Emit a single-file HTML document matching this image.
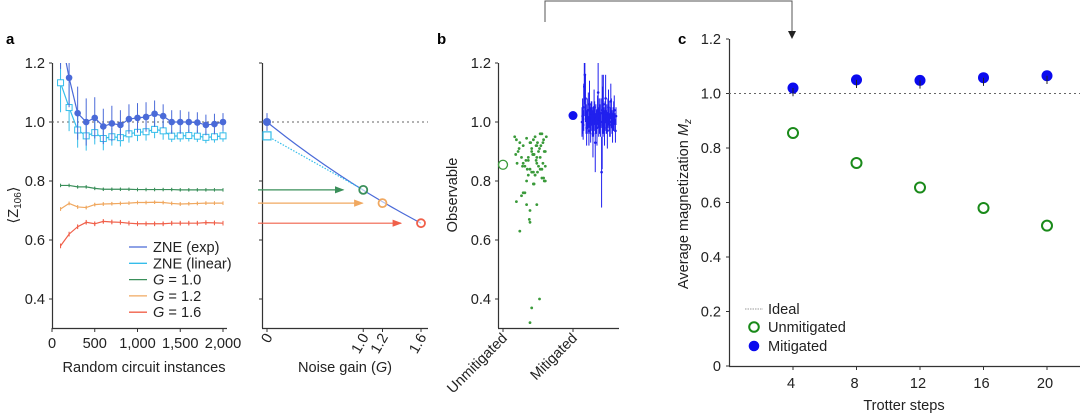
<!DOCTYPE html>
<html><head><meta charset="utf-8"><style>
html,body{margin:0;padding:0;background:#fff;width:1080px;height:414px;overflow:hidden}
svg{display:block;font-family:"Liberation Sans",Arial,sans-serif}
</style></head><body>
<svg id="fig" width="1080" height="414" viewBox="0 0 1080 414">
<defs>
<marker id="arrG" markerWidth="8" markerHeight="8" refX="7" refY="4" orient="auto"><path d="M0,1 L8,4 L0,7 z" fill="#3a8f5a"/></marker>
<marker id="arrO" markerWidth="8" markerHeight="8" refX="7" refY="4" orient="auto"><path d="M0,1 L8,4 L0,7 z" fill="#f0a860"/></marker>
<marker id="arrR" markerWidth="8" markerHeight="8" refX="7" refY="4" orient="auto"><path d="M0,1 L8,4 L0,7 z" fill="#f0604a"/></marker>
</defs>
<g>
<path d="M545,22 L545,1 L792,1 L792,32" fill="none" stroke="#555" stroke-width="1"/>
<path d="M788,31 L796,31 L792,39 z" fill="#222"/>
</g>
<text x="6" y="44" font-size="15" font-weight="bold">a</text>
<text x="437" y="44" font-size="15" font-weight="bold">b</text>
<text x="678" y="44" font-size="15" font-weight="bold">c</text>
<g id="pa"></g><g id="pa2"></g><g id="pb"></g><g id="pc"></g>
</svg>
<script>
// ---------- data ----------
const instances = [100,200,300,400,500,600,700,800,900,1000,1100,1200,1300,1400,1500,1600,1700,1800,1900,2000];
const zneExp = [1.30,1.15,1.03,1.0,1.014,0.985,0.995,0.99,1.01,1.014,1.017,1.028,1.02,1.0,1.0,1.0,0.998,0.99,0.993,1.0];
const zneExpErr = [0.12,0.1,0.09,0.08,0.07,0.06,0.06,0.05,0.05,0.05,0.05,0.045,0.04,0.04,0.04,0.035,0.035,0.035,0.035,0.03];
const zneLin = [1.133,1.049,0.973,0.953,0.964,0.944,0.95,0.947,0.96,0.965,0.967,0.975,0.97,0.952,0.953,0.954,0.952,0.948,0.95,0.953];
const zneLinErr = [0.1,0.08,0.06,0.05,0.04,0.04,0.03,0.03,0.03,0.03,0.03,0.03,0.03,0.02,0.02,0.02,0.02,0.02,0.02,0.02];
const g10 = [0.785,0.785,0.78,0.78,0.775,0.772,0.772,0.772,0.772,0.771,0.771,0.771,0.771,0.771,0.77,0.77,0.77,0.77,0.77,0.77];
const g12 = [0.705,0.724,0.712,0.71,0.72,0.722,0.723,0.724,0.725,0.727,0.727,0.728,0.727,0.724,0.722,0.723,0.724,0.725,0.725,0.725];
const g16 = [0.58,0.62,0.645,0.66,0.655,0.663,0.661,0.66,0.657,0.655,0.655,0.655,0.655,0.657,0.657,0.657,0.657,0.659,0.658,0.657];
const gains = [1.0,1.2,1.6];
const gainVals = [0.77,0.725,0.657];
const extrapExp = 1.0;
const extrapLin = 0.953;
const xTicksA = [0,500,1000,1500,2000];
const xTickLabelsA = ["0","500","1,000","1,500","2,000"];
const yTicks = [0.4,0.6,0.8,1.0,1.2];
const unmitVals = [0.95,0.94,0.93,0.92,0.945,0.9,0.88,0.86,0.85,0.87,0.93,0.91,0.89,0.84,0.82,0.8,0.79,0.76,0.75,0.76,0.73,0.72,0.7,0.67,0.66,0.63,0.95,0.92,0.9,0.88,0.86,0.84,0.83,0.82,0.81,0.8,0.96,0.94,0.93,0.91,0.9,0.89,0.87,0.85,0.84,0.83,0.79,0.95,0.93,0.92,0.9,0.89,0.88,0.86,0.85,0.83,0.81,0.96,0.94,0.92,0.9,0.88,0.87,0.86,0.84,0.82,0.8,0.72,0.4,0.37,0.32,0.91,0.89,0.85,0.93];
const unmitJit = [0.05,0.1,0.2,0.3,0.4,0.15,0.25,0.12,0.35,0.45,0.5,0.55,0.6,0.5,0.45,0.4,0.6,0.3,0.25,0.35,0.1,0.4,0.5,0.48,0.5,0.2,0.65,0.7,0.75,0.8,0.7,0.85,0.6,0.65,0.9,0.95,0.85,0.9,0.72,0.78,0.95,0.62,0.68,0.75,0.8,0.55,0.62,0.98,0.88,0.82,0.92,0.58,0.7,0.88,0.95,0.72,0.85,0.8,0.6,0.68,0.55,0.45,0.38,0.3,0.42,0.65,0.92,0.7,0.78,0.55,0.5,0.18,0.08,0.28,0.52];
const mitVals = [1.0,1.02,0.99,1.05,1.12,1.16,1.08,1.01,0.98,1.03,1.0,1.04,0.97,1.06,1.01,0.99,1.02,1.03,1.0,0.96,1.0,1.05,1.02,0.93,1.01,1.0,0.98,1.04,1.1,1.0,1.02,1.01,0.99,1.03,0.83,1.0,1.04,1.06,1.0,0.98,1.02,1.08,1.0,1.01,0.97,1.03,1.05,1.02,0.99,1.0,1.07,1.03,1.0,0.98,1.01,1.02,1.04,1.0,0.97,1.02];
const mitErr = [0.05,0.06,0.05,0.08,0.1,0.1,0.08,0.05,0.06,0.05,0.04,0.06,0.05,0.08,0.05,0.06,0.05,0.04,0.05,0.08,0.05,0.06,0.05,0.1,0.05,0.04,0.06,0.05,0.12,0.05,0.06,0.05,0.04,0.05,0.12,0.16,0.08,0.1,0.05,0.06,0.05,0.08,0.04,0.05,0.06,0.05,0.06,0.05,0.04,0.05,0.06,0.05,0.04,0.05,0.04,0.05,0.05,0.03,0.04,0.03];
const trotter = [4,8,12,16,20];
const mitigatedC = [1.02,1.05,1.048,1.058,1.065];
const unmitigatedC = [0.855,0.745,0.655,0.58,0.515];
const yTicksC = [0,0.2,0.4,0.6,0.8,1.0,1.2];
const yTickLabelsC = ["0","0.2","0.4","0.6","0.8","1.0","1.2"];

// ---------- helpers ----------
const NS="http://www.w3.org/2000/svg";
const FS=14.6;
function mk(parent,tag,attrs,text){const e=document.createElementNS(NS,tag);for(const k in attrs)e.setAttribute(k,attrs[k]);if(text!==undefined)e.textContent=text;parent.appendChild(e);return e;}
const yA = v => 122-(v-1)*295;
const xA = n => 52+n*(171/2000);
const xG = g => 267+g*96.25;
const yC = v => 366-v*272.5;
const xC = t => 793+(t-4)*(254/16);
const CEXP="#4a6ad8", CLIN="#35bdea", CG1="#3a8f5a", CG12="#f0a860", CG16="#f0604a";

// ---------- panel a left ----------
const pa=document.getElementById('pa');


mk(pa,'line',{x1:52.5,y1:63,x2:52.5,y2:328,stroke:'#333','stroke-width':1.2});
mk(pa,'line',{x1:52,y1:328.5,x2:227,y2:328.5,stroke:'#333','stroke-width':1.2});
yTicks.forEach(v=>{mk(pa,'line',{x1:49,x2:52,y1:yA(v),y2:yA(v),stroke:'#333'});
 const t=mk(pa,'text',{x:45,y:yA(v)+5,'font-size':FS,'text-anchor':'end',fill:'#222'},v.toFixed(1));
 });
xTicksA.forEach((v,i)=>{mk(pa,'line',{x1:xA(v),x2:xA(v),y1:328,y2:332,stroke:'#333'});
 const t=mk(pa,'text',{x:xA(v),y:348,'font-size':FS,'text-anchor':'middle',fill:'#222'},xTickLabelsA[i]);
 });
let xt=mk(pa,'text',{x:144,y:372,'font-size':FS,'text-anchor':'middle',fill:'#222'},'Random circuit instances');

let yt=mk(pa,'text',{x:0,y:0,'font-size':FS,'text-anchor':'middle',fill:'#222',transform:'translate(18,205) rotate(-90)'});

yt.innerHTML='⟨Z<tspan font-size="10" dy="3">106</tspan><tspan dy="-3">⟩</tspan>';
mk(pa,'line',{x1:52,x2:227,y1:yA(1),y2:yA(1),stroke:'#666','stroke-dasharray':'2,3'});
const clip=mk(pa,'clipPath',{id:'clipA'});mk(clip,'rect',{x:40,y:63,width:200,height:270});
const ga=mk(pa,'g',{'clip-path':'url(#clipA)'});
function series(vals,errs,color,name,marker,errDefault){
 const g=mk(ga,'g',{});
 mk(g,'polyline',{points:instances.map((n,i)=>xA(n)+','+yA(vals[i])).join(' '),fill:'none',stroke:color,'stroke-width':1.2});
 instances.forEach((n,i)=>{const e=errs?errs[i]:errDefault;
  mk(g,'line',{x1:xA(n),x2:xA(n),y1:yA(vals[i]-e),y2:yA(vals[i]+e),stroke:color,'stroke-width':1});
  if(marker==='dot')mk(g,'circle',{cx:xA(n),cy:yA(vals[i]),r:3.3,fill:color});
  else if(marker==='sq')mk(g,'rect',{x:xA(n)-3,y:yA(vals[i])-3,width:6,height:6,fill:'#fff',stroke:color,'stroke-width':1});
  else mk(g,'line',{x1:xA(n),x2:xA(n),y1:yA(vals[i]-0.006),y2:yA(vals[i]+0.006),stroke:color,'stroke-width':1});
 });}
series(g16,null,CG16,'series-g16','tick',0.008);
series(g12,null,CG12,'series-g12','tick',0.006);
series(g10,null,CG1,'series-g10','tick',0.004);
series(zneLin,zneLinErr,CLIN,'series-zne-linear','sq');
series(zneExp,zneExpErr,CEXP,'series-zne-exp','dot');
const leg=mk(pa,'g',{});
[['ZNE (exp)',CEXP],['ZNE (linear)',CLIN],['G = 1.0',CG1],['G = 1.2',CG12],['G = 1.6',CG16]].forEach((d,i)=>{
 const y=247+i*16.3;
 mk(leg,'line',{x1:129,x2:147,y1:y,y2:y,stroke:d[1],'stroke-width':1.3});
 const t=mk(leg,'text',{x:153,y:y+5,'font-size':FS,fill:'#222'});
 
 if(i<2)t.textContent=d[0];else t.innerHTML='<tspan font-style="italic">G</tspan>'+d[0].slice(1);
});

// ---------- panel a right ----------
const pa2=document.getElementById('pa2');


mk(pa2,'line',{x1:262.5,y1:63,x2:262.5,y2:328,stroke:'#333','stroke-width':1.2});
mk(pa2,'line',{x1:262,y1:328.5,x2:428,y2:328.5,stroke:'#333','stroke-width':1.2});
yTicks.forEach(v=>mk(pa2,'line',{x1:259,x2:262,y1:yA(v),y2:yA(v),stroke:'#333'}));
const gTicks=[0,1.0,1.2,1.6];
gTicks.forEach(g=>{mk(pa2,'line',{x1:xG(g),x2:xG(g),y1:328,y2:332,stroke:'#333'});
 const t=mk(pa2,'text',{x:0,y:0,'font-size':FS,'text-anchor':'end',fill:'#222',transform:`translate(${xG(g)+6},${337}) rotate(-60)`},g===0?'0':g.toFixed(1));
 });
xt=mk(pa2,'text',{x:345,y:372,'font-size':FS,'text-anchor':'middle',fill:'#222'});
xt.innerHTML='Noise gain (<tspan font-style="italic">G</tspan>)';

mk(pa2,'line',{x1:262,x2:428,y1:yA(1),y2:yA(1),stroke:'#666','stroke-dasharray':'2,3'});
const gcols=[CG1,CG12,CG16], arr=['arrG','arrO','arrR'];
gains.forEach((g,i)=>{const a=mk(pa2,'line',{x1:258,x2:xG(g)-20,y1:yA(gainVals[i]),y2:yA(gainVals[i]),stroke:gcols[i],'stroke-width':1.2,'marker-end':`url(#${arr[i]})`});
 });
const k=Math.log(gainVals[2]/extrapExp)/gains[2];
let pts=[];for(let g=0;g<=gains[2]+1e-9;g+=0.05)pts.push(xG(g)+','+yA(extrapExp*Math.exp(k*g)));
let c=mk(pa2,'polyline',{points:pts.join(' '),fill:'none',stroke:CEXP,'stroke-width':1.2});

c=mk(pa2,'line',{x1:xG(0),y1:yA(extrapLin),x2:xG(gains[0]),y2:yA(gainVals[0]),stroke:CLIN,'stroke-width':1.2,'stroke-dasharray':'1.5,1.5'});

gains.forEach((g,i)=>{const m=mk(pa2,'circle',{cx:xG(g),cy:yA(gainVals[i]),r:4,fill:'#fff','fill-opacity':0.6,stroke:gcols[i],'stroke-width':1.8});
 });
mk(pa2,'line',{x1:xG(0),x2:xG(0),y1:yA(extrapExp-0.03),y2:yA(extrapExp+0.03),stroke:CEXP});
c=mk(pa2,'circle',{cx:xG(0),cy:yA(extrapExp),r:4,fill:CEXP});

c=mk(pa2,'rect',{x:xG(0)-4,y:yA(extrapLin)-4,width:8,height:8,fill:'#fff',stroke:CLIN,'stroke-width':1.2});


// ---------- panel b ----------
const pb=document.getElementById('pb');


mk(pb,'line',{x1:498.5,y1:63,x2:498.5,y2:328,stroke:'#333','stroke-width':1.2});
mk(pb,'line',{x1:498,y1:328.5,x2:619,y2:328.5,stroke:'#333','stroke-width':1.2});
yTicks.forEach(v=>{mk(pb,'line',{x1:495,x2:498,y1:yA(v),y2:yA(v),stroke:'#333'});
 const t=mk(pb,'text',{x:491,y:yA(v)+5,'font-size':FS,'text-anchor':'end',fill:'#222'},v.toFixed(1));
 });
[['Unmitigated',503],['Mitigated',573]].forEach(d=>{mk(pb,'line',{x1:d[1],x2:d[1],y1:328,y2:332,stroke:'#333'});
 const t=mk(pb,'text',{x:0,y:0,'font-size':FS,'text-anchor':'end',fill:'#222',transform:`translate(${d[1]+5},${339}) rotate(-45)`},d[0]);
 });
yt=mk(pb,'text',{x:0,y:0,'font-size':FS,'text-anchor':'middle',fill:'#222',transform:'translate(457,195) rotate(-90)'},'Observable');

const gu=mk(pb,'g',{fill:'#3a9a3a'});
unmitVals.forEach((v,i)=>mk(gu,'circle',{cx:513+unmitJit[i]*34,cy:yA(v),r:1.4}));
c=mk(pb,'circle',{cx:503,cy:yA(0.855),r:4.5,fill:'none',stroke:'#3a9a3a','stroke-width':1.3});

const gm=mk(pb,'g',{});
const clipB=mk(pb,'clipPath',{id:'clipB'});mk(clipB,'rect',{x:495,y:63,width:130,height:270});
gm.setAttribute('clip-path','url(#clipB)');
mitVals.forEach((v,i)=>{const x=582+(i/(mitVals.length-1))*34;
 mk(gm,'line',{x1:x,x2:x,y1:yA(v-mitErr[i]),y2:yA(v+mitErr[i]),stroke:'#2020ee','stroke-width':1});
 mk(gm,'circle',{cx:x,cy:yA(v),r:1.3,fill:'#2020ee'});});
c=mk(pb,'circle',{cx:573,cy:yA(1.022),r:4.5,fill:'#1010ee'});


// ---------- panel c ----------
const pc=document.getElementById('pc');


mk(pc,'line',{x1:729.5,y1:39,x2:729.5,y2:366,stroke:'#333','stroke-width':1.2});
mk(pc,'line',{x1:729,y1:366.5,x2:1080,y2:366.5,stroke:'#333','stroke-width':1.2});
yTicksC.forEach((v,i)=>{mk(pc,'line',{x1:726,x2:729,y1:yC(v),y2:yC(v),stroke:'#333'});
 const t=mk(pc,'text',{x:721,y:yC(v)+5,'font-size':FS,'text-anchor':'end',fill:'#222'},yTickLabelsC[i]);
 });
trotter.forEach(t=>{mk(pc,'line',{x1:xC(t),x2:xC(t),y1:366,y2:370,stroke:'#333'});
 const e=mk(pc,'text',{x:xC(t)-2,y:388,'font-size':FS,'text-anchor':'middle',fill:'#222'},String(t));
 });
xt=mk(pc,'text',{x:904,y:410,'font-size':FS,'text-anchor':'middle',fill:'#222'},'Trotter steps');

yt=mk(pc,'text',{x:0,y:0,'font-size':FS,'text-anchor':'middle',fill:'#222',transform:'translate(688,204) rotate(-90)'});
yt.innerHTML='Average magnetization <tspan font-style="italic">M</tspan><tspan font-style="italic" font-size="10" dy="3">z</tspan>';

c=mk(pc,'line',{x1:729,x2:1080,y1:yC(1),y2:yC(1),stroke:'#666','stroke-dasharray':'2,3'});

const gcu=mk(pc,'g',{});
trotter.forEach((t,i)=>mk(gcu,'circle',{cx:xC(t),cy:yC(unmitigatedC[i]),r:5,fill:'none',stroke:'#1a8a1a','stroke-width':2}));
const gcm=mk(pc,'g',{});
trotter.forEach((t,i)=>{mk(gcm,'circle',{cx:xC(t),cy:yC(mitigatedC[i]),r:5.5,fill:'#0a0aee'});
 mk(gcm,'line',{x1:xC(t),x2:xC(t),y1:yC(mitigatedC[i]),y2:yC(mitigatedC[i]-0.03),stroke:'#222','stroke-width':1});});
const lc=mk(pc,'g',{});
mk(lc,'line',{x1:745,x2:763,y1:309,y2:309,stroke:'#999','stroke-dasharray':'1.5,1'});
mk(lc,'text',{x:768,y:314,'font-size':FS,fill:'#222'},'Ideal');
mk(lc,'circle',{cx:754,cy:327,r:4.8,fill:'none',stroke:'#1a8a1a','stroke-width':2});
mk(lc,'text',{x:768,y:332,'font-size':FS,fill:'#222'},'Unmitigated');
mk(lc,'circle',{cx:754,cy:346,r:5.3,fill:'#0a0aee'});
mk(lc,'text',{x:768,y:351,'font-size':FS,fill:'#222'},'Mitigated');
</script>
</body></html>
